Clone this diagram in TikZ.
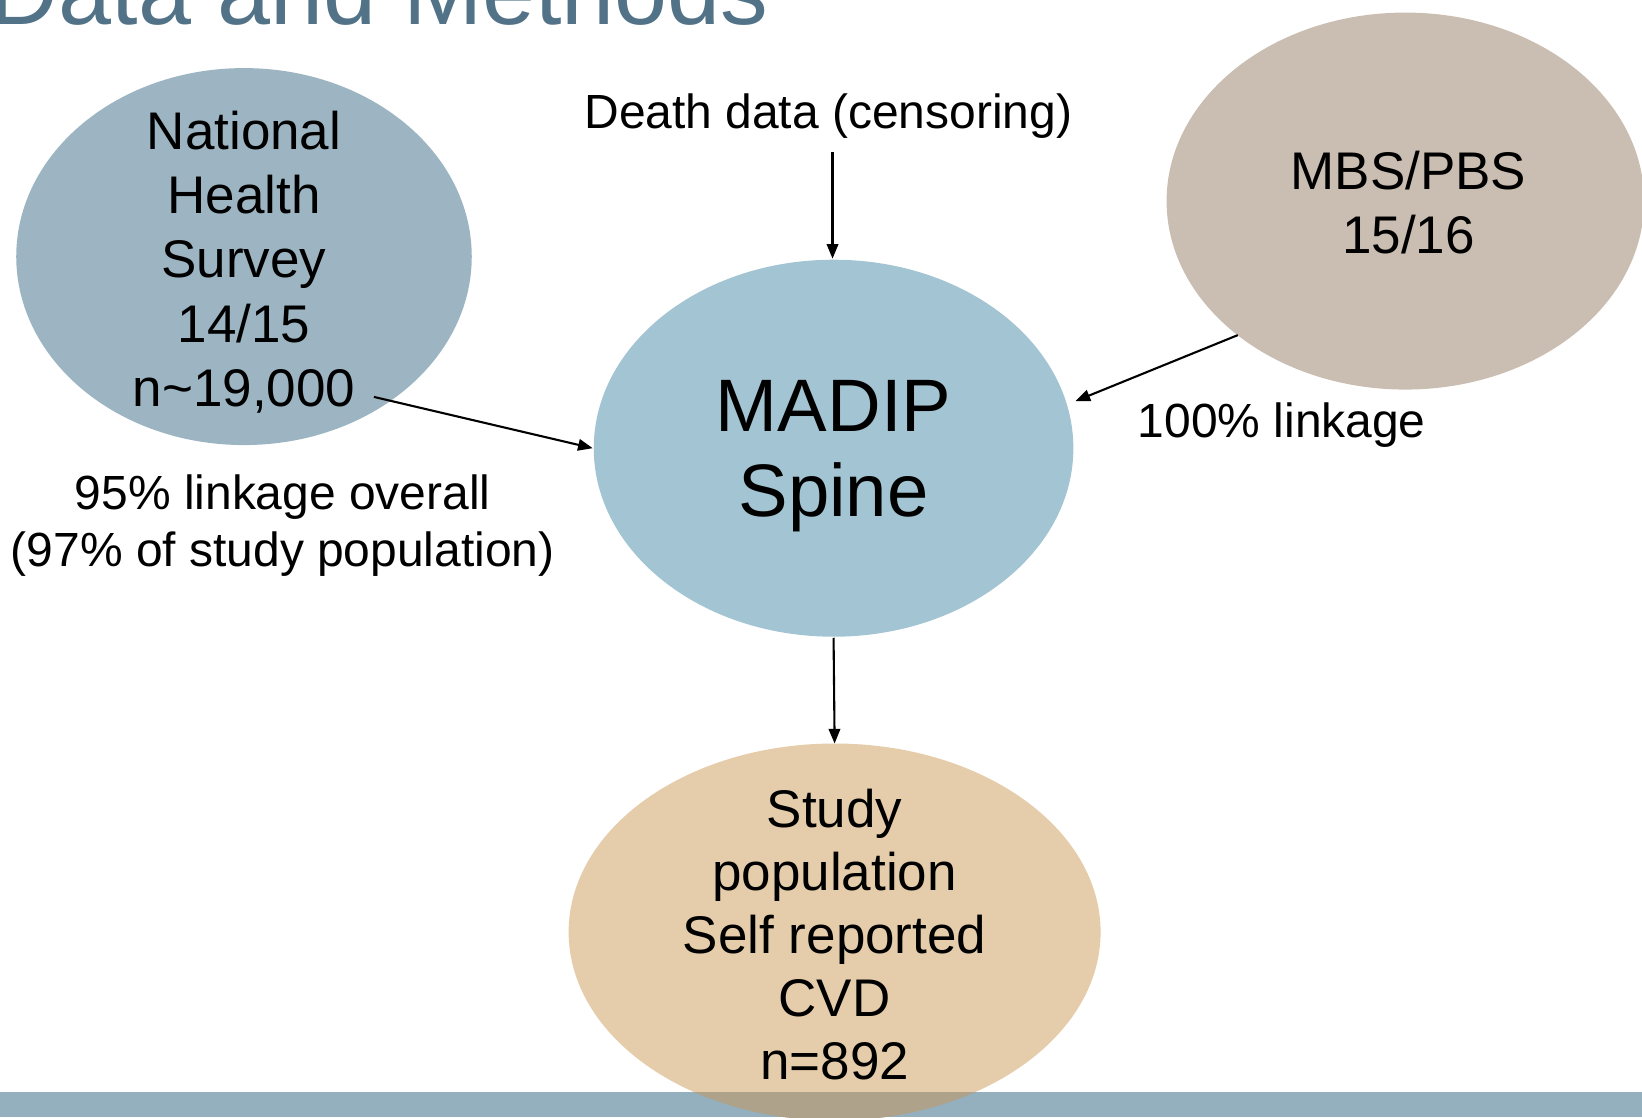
\documentclass[tikz,border=0pt]{standalone}
\usepackage{fontspec}
\setmainfont{Liberation Sans}
\usetikzlibrary{shapes.geometric,arrows.meta}
\definecolor{nhsc}{RGB}{157,181,194}
\definecolor{madc}{RGB}{163,196,210}
\definecolor{mbsc}{RGB}{201,190,177}
\definecolor{stc}{RGB}{229,204,170}
\definecolor{barc}{RGB}{148,175,189}
\definecolor{ovc}{RGB}{174,162,138}
\definecolor{titc}{RGB}{82,115,135}
\tikzset{
  blob/.style={ellipse, draw=none, inner sep=0pt},
  big/.style={font=\fontsize{25.3pt}{30pt}\selectfont, anchor=base, inner sep=0pt},
  huge/.style={font=\fontsize{35.5pt}{40pt}\selectfont, anchor=base, inner sep=0pt},
  lab/.style={font=\fontsize{22.9pt}{27pt}\selectfont, anchor=base, inner sep=0pt},
  link/.style={-{Triangle[length=7pt,width=5.5pt]}, line width=1pt, black}
}
\begin{document}
\begin{tikzpicture}[x=0.5pt,y=-0.5pt]
\useasboundingbox (0,0) rectangle (1568,1067);
% title
\node[anchor=base west, inner sep=0pt, text=titc, font=\fontsize{45.5pt}{50pt}\selectfont] (title) at (-10,23) {Data and Methods};
% ellipses
\node[blob, fill=nhsc, minimum width=435pt*0.5, minimum height=360pt*0.5] (nhs) at (233,245) {};
\node[blob, fill=madc, minimum width=458pt*0.5, minimum height=360pt*0.5] (mad) at (796,428) {};
\node[blob, fill=mbsc, minimum width=456pt*0.5, minimum height=360pt*0.5] (mbs) at (1342,192) {};
\node[blob, fill=stc, minimum width=508pt*0.5, minimum height=360pt*0.5] (st) at (797,890) {};
% bottom bar
\fill[barc] (0,1043) rectangle (1568,1067);
\begin{scope}
  \clip (0,1043) rectangle (1568,1067);
  \fill[ovc] (797,890) ellipse [x radius=254, y radius=180];
\end{scope}
% NHS text
\foreach \t [count=\i from 0] in {National,Health,Survey,14/15,n\char`\~19{,}000}
  \node[big] (nhs-\i) at (233,143+61.2*\i) {\t};
% MADIP
\node[huge] (mad-0) at (796,412.5) {MADIP};
\node[huge] (mad-1) at (796,493.5) {Spine};
% MBS
\node[big] (mbs-0) at (1345,181) {MBS/PBS};
\node[big] (mbs-1) at (1345,242) {15/16};
% Study
\foreach \t [count=\i from 0] in {Study,population,Self reported,CVD,n=892}
  \node[big] (st-\i) at (797,790+60.3*\i) {\t};
% labels
\node[lab] (death) at (791,123) {Death data (censoring)};
\node[lab] (l95) at (270,487) {95\% linkage overall};
\node[lab] (l97) at (270,541) {(97\% of study population)};
\node[lab] (l100) at (1224,418) {100\% linkage};
% connector end points
\coordinate (a1) at (357,379);
\coordinate (a2) at (566,428);
\coordinate (b1) at (795,145);
\coordinate (b2) at (795,247);
\coordinate (c1) at (1182,320);
\coordinate (c2) at (1027,383);
\coordinate (d1) at (796,609);
\coordinate (d2) at (797,710);
\draw[link] (a1) -- (a2);
\draw[link] (b1) -- (b2);
\draw[link] (c1) -- (c2);
\draw[link] (d1) -- (d2);
\end{tikzpicture}
\end{document}
